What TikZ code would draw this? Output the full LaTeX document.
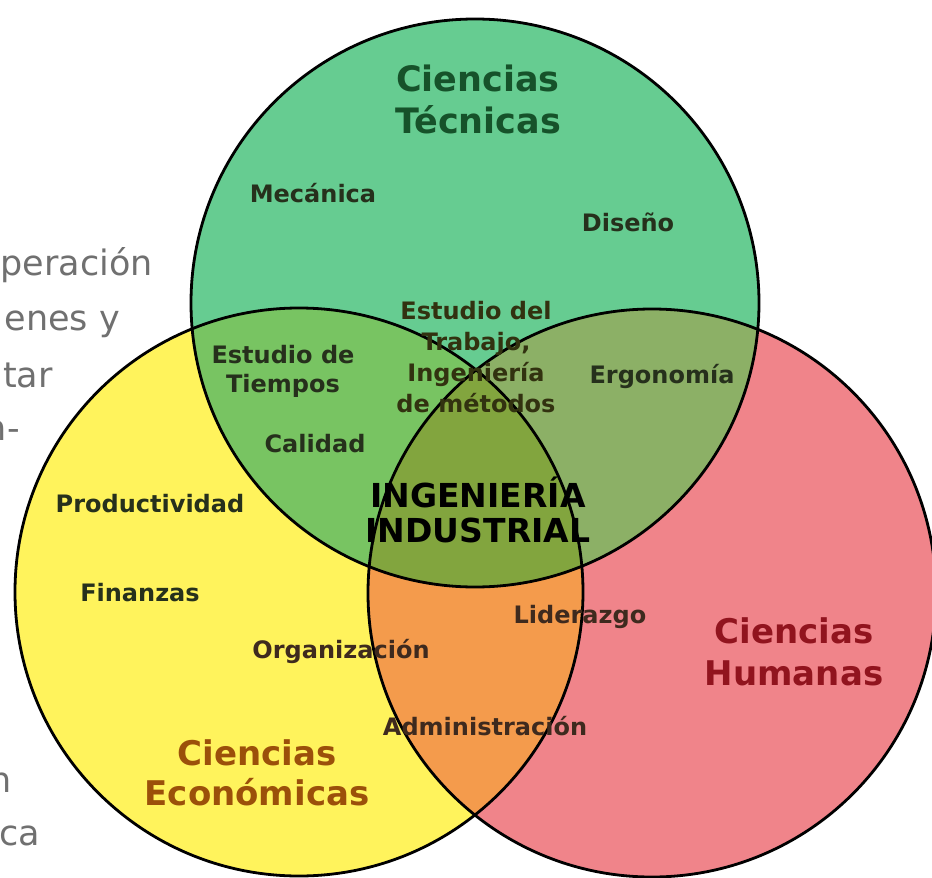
\documentclass[tikz,border=0pt]{standalone}
\usepackage{fontspec}
\setmainfont{DejaVu Sans}
\definecolor{cgreen}{RGB}{102,204,145}
\definecolor{cyellow}{RGB}{255,243,92}
\definecolor{cred}{RGB}{240,132,138}
\definecolor{cgy}{RGB}{120,196,98}
\definecolor{cgr}{RGB}{140,176,102}
\definecolor{cyr}{RGB}{244,155,76}
\definecolor{cgyr}{RGB}{130,165,62}
\definecolor{ttec}{RGB}{22,82,42}
\definecolor{thum}{RGB}{145,20,30}
\definecolor{teco}{RGB}{155,80,10}
\definecolor{tdark}{RGB}{38,48,28}
\definecolor{tbrown}{RGB}{62,42,30}
\definecolor{tolive}{RGB}{50,50,16}
\definecolor{cgray}{RGB}{112,112,112}
\begin{document}
\begin{tikzpicture}[x=1pt,y=-1pt,
  big/.style={font=\fontsize{35}{42}\selectfont\bfseries, align=center, anchor=base, inner sep=0pt},
  lbl/.style={font=\fontsize{24}{30}\selectfont\bfseries, align=center, anchor=base, inner sep=0pt},
  bgtext/.style={font=\fontsize{35}{53}\selectfont, text=cgray, anchor=base east, inner sep=0pt},
  ring/.style={line width=2.8pt, draw=black}]
\useasboundingbox (0,0) rectangle (932,878);
\clip (0,0) rectangle (932,878);
\fill[white] (0,0) rectangle (932,878);
\coordinate (G) at (475,303);
\coordinate (Y) at (299,592);
\coordinate (R) at (652,593);
\def\rad{284pt}
% base fills
\fill[cgreen] (G) circle[radius=\rad];
\fill[cyellow] (Y) circle[radius=\rad];
\fill[cred] (R) circle[radius=\rad];
% overlaps
\begin{scope}\clip (G) circle[radius=\rad]; \fill[cgy] (Y) circle[radius=\rad];\end{scope}
\begin{scope}\clip (G) circle[radius=\rad]; \fill[cgr] (R) circle[radius=\rad];\end{scope}
\begin{scope}\clip (Y) circle[radius=\rad]; \fill[cyr] (R) circle[radius=\rad];\end{scope}
\begin{scope}\clip (G) circle[radius=\rad]; \clip (Y) circle[radius=\rad]; \fill[cgyr] (R) circle[radius=\rad];\end{scope}
% outlines
\draw[ring] (G) circle[radius=\rad];
\draw[ring] (Y) circle[radius=\rad];
\draw[ring] (R) circle[radius=\rad];
% background text cut at left edge
\node[bgtext] (b1) at (153,275) {peración};
\node[bgtext] (b2) at (120,330) {enes y};
\node[bgtext] (b3) at (53,387) {tar};
\node[bgtext] (b4) at (20,440) {n-};
\node[bgtext] (b5) at (12,792) {n};
\node[bgtext] (b6) at (40,845) {ca};
% titles (anchor base = baseline of the last line)
\node[big, text=ttec] (tec) at (478,133) {Ciencias\\Técnicas};
\node[big, font=\fontsize{34}{42}\selectfont\bfseries, text=thum] (hum) at (794,685) {Ciencias\\Humanas};
\node[big, font=\fontsize{34}{40}\selectfont\bfseries, text=teco] (eco) at (257,805) {Ciencias\\Económicas};
% labels
\node[lbl, text=tdark] (mec) at (313,202) {Mecánica};
\node[lbl, text=tdark] (dis) at (628,231) {Diseño};
\node[lbl, font=\fontsize{24}{31}\selectfont\bfseries, text=tolive] (tra) at (476,412)
  {Estudio del\\Trabajo,\\Ingeniería\\de métodos};
\node[lbl, font=\fontsize{24}{29}\selectfont\bfseries, text=tdark] (tie) at (283,392) {Estudio de\\Tiempos};
\node[lbl, text=tdark] (erg) at (662,383) {Ergonomía};
\node[lbl, text=tdark] (cal) at (315,452) {Calidad};
\node[lbl, font=\fontsize{33}{35}\selectfont\bfseries, text=black] (ing) at (478,542)
  {INGENIERÍA\\INDUSTRIAL};
\node[lbl, text=tdark] (pro) at (150,512) {Productividad};
\node[lbl, text=tdark] (fin) at (140,601) {Finanzas};
\node[lbl, text=tbrown] (org) at (341,658) {Organización};
\node[lbl, text=tbrown] (lid) at (580,623) {Liderazgo};
\node[lbl, text=tbrown] (adm) at (485,735) {Administración};
\end{tikzpicture}
\end{document}
